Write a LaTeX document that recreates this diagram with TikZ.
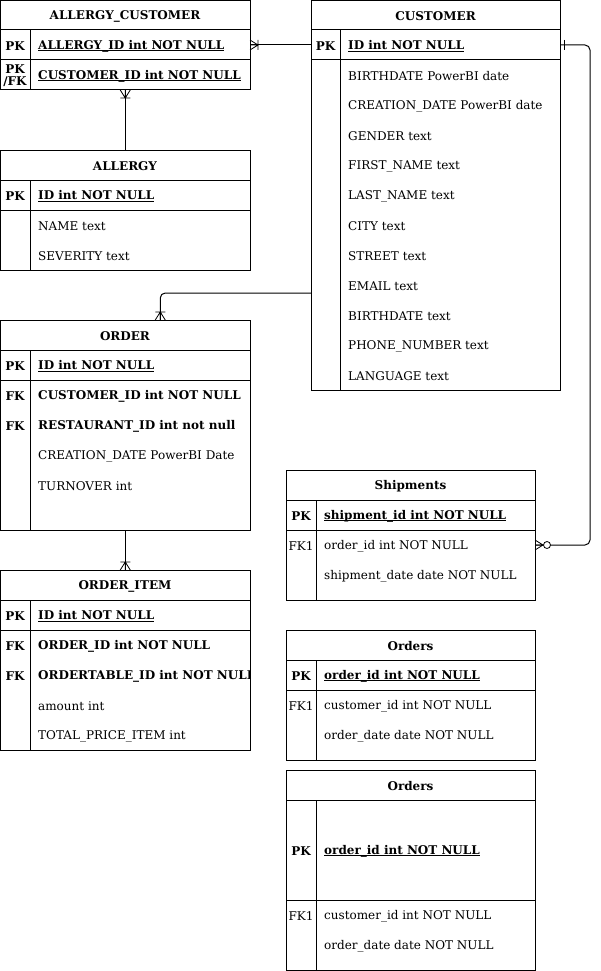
\documentclass[tikz,border=0pt]{standalone}
\usepackage{fontspec}
\setmainfont{DejaVu Serif}
\newcommand\fs{\fontsize{12}{14}\selectfont}
\newcommand\ulx[1]{\setbox0=\hbox{#1}\rlap{\rule[-2.2pt]{\wd0}{0.9pt}}\box0}
\newcommand\crowbar[2]{\begin{scope}[shift={#1},rotate=#2]\draw[line width=0.8pt] (0,-5)--(8,0)--(0,5) (8,-5)--(8,5) (0,0)--(8,0);\end{scope}}
\begin{document}
\begin{tikzpicture}[x=1pt,y=-1pt,
  tbl/.style={draw, line width=1pt, inner sep=0, outer sep=0, anchor=north west},
  hdr/.style={font=\fs\bfseries, inner sep=0, yshift=-1pt},
  key/.style={font=\fs\bfseries, inner sep=0, yshift=-1pt},
  keyn/.style={font=\fs, inner sep=0, yshift=-1pt},
  fld/.style={anchor=west, font=\fs, inner sep=0, yshift=-1pt},
  bfld/.style={anchor=west, font=\fs\bfseries, inner sep=0, yshift=-1pt},
  sep/.style={line width=1pt},
  rel/.style={line width=1pt, rounded corners=5pt}]
\useasboundingbox (0,0) rectangle (600,971);

% ALLERGY_CUSTOMER
\node[tbl, minimum width=249.5pt, minimum height=89.5pt] (ac) at (0.5,0.5) {};
\draw[sep] (0.5,30) -- (250,30) (0.5,60) -- (250,60) (30,30) -- (30,90);
\node[hdr] (acH) at (125,15) {ALLERGY\_CUSTOMER};
\node[key] (acK1) at (15,45) {PK};
\node[bfld] (acF1) at (38,45) {\ulx{ALLERGY\_ID int NOT NULL}};
\node[key, align=center, font=\fontsize{12}{12}\selectfont\bfseries] (acK2) at (15,75) {PK\\/FK};
\node[bfld] (acF2) at (38,75) {\ulx{CUSTOMER\_ID int NOT NULL}};

% CUSTOMER
\node[tbl, minimum width=249pt, minimum height=389.5pt] (cust) at (311,0.5) {};
\draw[sep] (311,30) -- (560,30) (311,60) -- (560,60) (340,30) -- (340,390);
\node[hdr] (cuH) at (435.5,15) {CUSTOMER};
\node[key] (cuK1) at (325.5,45) {PK};
\node[bfld] (cuF1) at (348,45) {\ulx{ID int NOT NULL}};
\node[fld] (cuF2) at (348,75) {BIRTHDATE PowerBI date};
\node[fld] (cuF3) at (348,105) {CREATION\_DATE PowerBI date};
\node[fld] (cuF4) at (348,135) {GENDER text};
\node[fld] (cuF5) at (348,165) {FIRST\_NAME text};
\node[fld] (cuF6) at (348,195) {LAST\_NAME text};
\node[fld] (cuF7) at (348,225) {CITY text};
\node[fld] (cuF8) at (348,255) {STREET text};
\node[fld] (cuF9) at (348,285) {EMAIL text};
\node[fld] (cuF10) at (348,315) {BIRTHDATE text};
\node[fld] (cuF11) at (348,345) {PHONE\_NUMBER text};
\node[fld] (cuF12) at (348,375) {LANGUAGE text};

% ALLERGY
\node[tbl, minimum width=249.5pt, minimum height=120pt] (all) at (0.5,150) {};
\draw[sep] (0.5,180) -- (250,180) (0.5,210) -- (250,210) (30,180) -- (30,270);
\node[hdr] (alH) at (125,165) {ALLERGY};
\node[key] (alK1) at (15,195) {PK};
\node[bfld] (alF1) at (38,195) {\ulx{ID int NOT NULL}};
\node[fld] (alF2) at (38,225) {NAME text};
\node[fld] (alF3) at (38,255) {SEVERITY text};

% ORDER
\node[tbl, minimum width=249.5pt, minimum height=210pt] (ord) at (0.5,320) {};
\draw[sep] (0.5,350) -- (250,350) (0.5,380) -- (250,380) (30,350) -- (30,530);
\node[hdr] (orH) at (125,335) {ORDER};
\node[key] (orK1) at (15,365) {PK};
\node[bfld] (orF1) at (38,365) {\ulx{ID int NOT NULL}};
\node[key] (orK2) at (15,395) {FK};
\node[bfld] (orF2) at (38,395) {CUSTOMER\_ID int NOT NULL};
\node[key] (orK3) at (15,425) {FK};
\node[bfld] (orF3) at (38,425) {RESTAURANT\_ID int not null};
\node[fld] (orF4) at (38,455) {CREATION\_DATE PowerBI Date};
\node[fld] (orF5) at (38,485) {TURNOVER int};

% ORDER_ITEM
\node[tbl, minimum width=249.5pt, minimum height=180pt] (oi) at (0.5,570) {};
\draw[sep] (0.5,600) -- (250,600) (0.5,630) -- (250,630) (30,600) -- (30,750);
\node[hdr] (oiH) at (125,585) {ORDER\_ITEM};
\node[key] (oiK1) at (15,615) {PK};
\node[bfld] (oiF1) at (38,615) {\ulx{ID int NOT NULL}};
\node[key] (oiK2) at (15,645) {FK};
\node[bfld] (oiF2) at (38,645) {ORDER\_ID int NOT NULL};
\node[key] (oiK3) at (15,675) {FK};
\begin{scope}
\clip (31,661) rectangle (249.5,689);
\node[bfld] (oiF3) at (38,675) {ORDERTABLE\_ID int NOT NULL};
\end{scope}
\node[fld] (oiF4) at (38,705) {amount int};
\node[fld] (oiF5) at (38,735) {TOTAL\_PRICE\_ITEM int};

% Shipments
\node[tbl, minimum width=249pt, minimum height=130pt] (sh) at (286,470) {};
\draw[sep] (286,500) -- (535,500) (286,530) -- (535,530) (316,500) -- (316,600);
\node[hdr] (shH) at (410.5,485) {Shipments};
\node[key] (shK1) at (301,515) {PK};
\node[bfld] (shF1) at (324,515) {\ulx{shipment\_id int NOT NULL}};
\node[keyn] (shK2) at (301,545) {FK1};
\node[fld] (shF2) at (324,545) {order\_id int NOT NULL};
\node[fld] (shF3) at (324,575) {shipment\_date date NOT NULL};

% Orders 1
\node[tbl, minimum width=249pt, minimum height=130pt] (oa) at (286,630) {};
\draw[sep] (286,660) -- (535,660) (286,690) -- (535,690) (316,660) -- (316,760);
\node[hdr] (oaH) at (410.5,645) {Orders};
\node[key] (oaK1) at (301,675) {PK};
\node[bfld] (oaF1) at (324,675) {\ulx{order\_id int NOT NULL}};
\node[keyn] (oaK2) at (301,705) {FK1};
\node[fld] (oaF2) at (324,705) {customer\_id int NOT NULL};
\node[fld] (oaF3) at (324,735) {order\_date date NOT NULL};

% Orders 2
\node[tbl, minimum width=249pt, minimum height=200pt] (ob) at (286,770) {};
\draw[sep] (286,800) -- (535,800) (286,900) -- (535,900) (316,800) -- (316,970);
\node[hdr] (obH) at (410.5,785) {Orders};
\node[key] (obK1) at (301,850) {PK};
\node[bfld] (obF1) at (324,850) {\ulx{order\_id int NOT NULL}};
\node[keyn] (obK2) at (301,915) {FK1};
\node[fld] (obF2) at (324,915) {customer\_id int NOT NULL};
\node[fld] (obF3) at (324,945) {order\_date date NOT NULL};

% Relationships
\draw[rel] ([yshift=-44.5pt]ac.north east) -- ([yshift=-44.5pt]cust.north west);
\crowbar{([yshift=-44.5pt]ac.north east)}{0}

\draw[rel] (ac.south) -- (all.north);
\crowbar{(ac.south)}{-90}

\draw[rel] ([yshift=-292.5pt]cust.north west) -| ([xshift=35pt]ord.north);
\crowbar{([xshift=35pt]ord.north)}{90}

\draw[rel] (ord.south) -- (oi.north);
\crowbar{(oi.north)}{90}

\draw[rel] ([yshift=-44.5pt]cust.north east) -- ++(30,0) |- ([yshift=-75pt]sh.north east);
\begin{scope}[shift={([yshift=-44.5pt]cust.north east)}]
\draw[line width=0.8pt] (4,-5) -- (4,5);
\end{scope}
\begin{scope}[shift={([yshift=-75pt]sh.north east)}]
\draw[line width=0.8pt] (0,-5) -- (8,0) -- (0,5) (0,0) -- (8,0);
\draw[line width=0.8pt, fill=white] (12,0) circle[radius=3.5pt];
\end{scope}
\end{tikzpicture}
\end{document}
